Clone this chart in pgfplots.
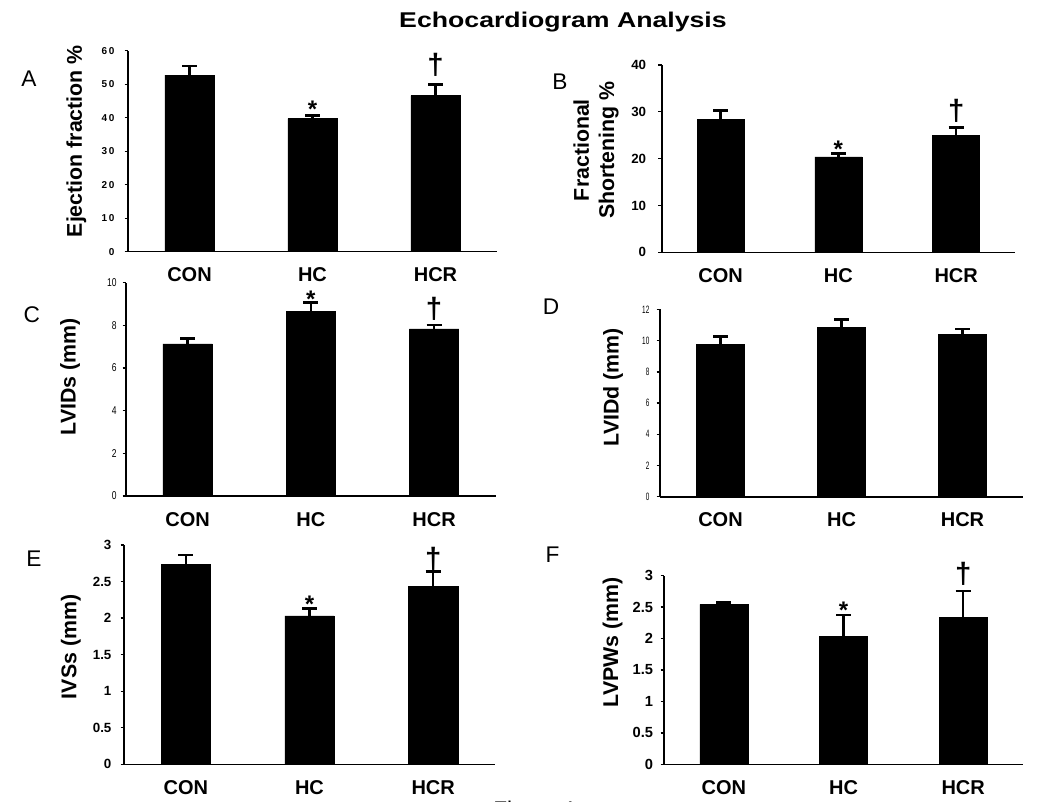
\documentclass[border=0pt]{standalone}
\usepackage{fontspec}
\setmainfont{Liberation Sans}
\usepackage{pgfplots}
\pgfplotsset{compat=1.18}
\pgfplotsset{
  panel/.style={
    scale only axis, anchor=south west, clip=false,
    axis x line*=bottom, axis y line*=left,
    axis line style={-, line width=1.2pt, black},
    xmin=-0.5, xmax=2.5, ymin=0,
    xtick={0,1,2}, xticklabels={CON,HC,HCR},
    xtick style={draw=none},
    xticklabel style={font=\fontsize{15}{18}\selectfont\bfseries, inner sep=0pt, anchor=north, yshift=-9.5pt},
    ytick style={line width=1pt, black}, tick align=outside, major tick length=2.5pt,
    yticklabel style={inner sep=0pt, anchor=east},
    ylabel style={font=\fontsize{16}{19}\selectfont\bfseries, anchor=center, align=center},
    /pgf/number format/assume math mode=true,
    ybar, bar width=0.4,
  },
  barstyle/.style={fill=black, draw=black,
    error bars/.cd, y dir=plus, y explicit,
    error bar style={line width=1.9pt, black},
    error mark options={rotate=90, line width=1.9pt, mark size=5.6pt, black}},
}
\newcommand\starfont{\fontsize{18}{18}\selectfont\bfseries}
\newcommand\dagfont{\fontsize{22}{22}\selectfont\bfseries}
\begin{document}
\begin{tikzpicture}
\useasboundingbox (0,0) rectangle (787.5pt,600.75pt);
% title and letters
\node[anchor=base, font=\fontsize{16}{18}\selectfont\bfseries, xscale=1.25] at (422.25pt,580.3pt) {Echocardiogram Analysis};
\node[font=\fontsize{17}{18}\selectfont, inner sep=0pt] at (21.75pt,541.9pt) {A};
\node[font=\fontsize{17}{18}\selectfont, inner sep=0pt] at (420pt,539.8pt) {B};
\node[font=\fontsize{17}{18}\selectfont, inner sep=0pt] at (23.8pt,364.5pt) {C};
\node[font=\fontsize{17}{18}\selectfont, inner sep=0pt] at (413.25pt,370.5pt) {D};
\node[font=\fontsize{17}{18}\selectfont, inner sep=0pt] at (25.5pt,181.5pt) {E};
\node[font=\fontsize{17}{18}\selectfont, inner sep=0pt] at (414.4pt,184.5pt) {F};
\node[anchor=north west, inner sep=0pt, font=\fontsize{17}{18}\selectfont] at (369.75pt,0pt) {Figure 1};

% A
\begin{axis}[panel, at={(96pt,411.98pt)}, width=276.75pt, height=150.75pt,
  ymax=60, ytick={0,10,20,30,40,50,60},
  yticklabels={0,1\,0,2\,0,3\,0,4\,0,5\,0,6\,0},
  yticklabel style={font=\fontsize{7.5}{9}\selectfont\bfseries, xshift=-7.5pt},
  ylabel={Ejection fraction \%},
  ylabel style={at={(axis description cs:-0.14,0.55)}}]
\addplot[barstyle] coordinates {(0,52.7) +- (0,2.8) (1,39.7) +- (0,0.9) (2,46.6) +- (0,3.3)};
\node[anchor=base, font=\starfont] at (axis cs:1,40.2) {*};
\node[font=\dagfont] at (axis cs:2,55.7) {†};
\end{axis}

% B
\begin{axis}[panel, at={(496.3pt,411.5pt)}, width=265pt, height=140.5pt,
  ymax=40, ytick={0,10,20,30,40},
  yticklabels={0,10,20,30,40},
  yticklabel style={font=\fontsize{10}{12}\selectfont\bfseries, xshift=-9pt},
  ylabel={Fractional\\Shortening \%},
  ylabel style={at={(axis description cs:-0.186,0.546)}}]
\addplot[barstyle] coordinates {(0,28.4) +- (0,1.85) (1,20.4) +- (0,0.7) (2,24.9) +- (0,1.8)};
\node[anchor=base, font=\starfont] at (axis cs:1,20.35) {*};
\node[font=\dagfont] at (axis cs:2,30.2) {†};
\end{axis}

% C
\begin{axis}[panel, at={(94.5pt,228.75pt)}, width=277.3pt, height=160pt,
  ymax=10, ytick={0,2,4,6,8,10},
  yticklabels={0,2,4,6,8,10},
  yticklabel style={font=\fontsize{8.5}{10}\selectfont, xscale=0.75, xshift=-5.8pt},
  ylabel={LVIDs (mm)},
  ylabel style={at={(axis description cs:-0.151,0.559)}}]
\addplot[barstyle] coordinates {(0,7.13) +- (0,0.26) (1,8.64) +- (0,0.42) (2,7.83) +- (0,0.19)};
\node[anchor=base, font=\starfont] at (axis cs:1,8.85) {*};
\node[font=\dagfont] at (axis cs:2,8.77) {†};
\end{axis}

% D
\begin{axis}[panel, at={(495pt,228.2pt)}, width=272.25pt, height=140.5pt,
  ymax=12, ytick={0,2,4,6,8,10,12},
  yticklabels={0,2,4,6,8,10,12},
  yticklabel style={font=\fontsize{8}{10}\selectfont, xscale=0.6, xshift=-9pt},
  ylabel={LVIDd (mm)},
  ylabel style={at={(axis description cs:-0.129,0.585)}}]
\addplot[barstyle] coordinates {(0,9.78) +- (0,0.47) (1,10.85) +- (0,0.5) (2,10.4) +- (0,0.34)};
\end{axis}

% E
\begin{axis}[panel, at={(93pt,27.5pt)}, width=278.25pt, height=164.5pt,
  ymax=3, ytick={0,0.5,1,1.5,2,2.5,3},
  yticklabels={0,0.5,1,1.5,2,2.5,3},
  yticklabel style={font=\fontsize{10}{12}\selectfont\bfseries, xshift=-6.75pt},
  ylabel={IVSs (mm)},
  ylabel style={at={(axis description cs:-0.143,0.535)}}]
\addplot[barstyle] coordinates {(0,2.73) +- (0,0.135) (1,2.03) +- (0,0.105) (2,2.43) +- (0,0.205)};
\node[anchor=base, font=\starfont] at (axis cs:1,2.083) {*};
\node[font=\dagfont] at (axis cs:2,2.81) {†};
\end{axis}

% F
\begin{axis}[panel, at={(498pt,27.5pt)}, width=269.25pt, height=141.5pt,
  ymax=3, ytick={0,0.5,1,1.5,2,2.5,3},
  yticklabels={0,0.5,1,1.5,2,2.5,3},
  yticklabel style={font=\fontsize{11}{13}\selectfont\bfseries, xshift=-5.5pt},
  ylabel={LVPWs (mm)},
  ylabel style={at={(axis description cs:-0.143,0.648)}}]
\addplot[barstyle] coordinates {(0,2.544) +- (0,0.03) (1,2.03) +- (0,0.345) (2,2.337) +- (0,0.42)};
\node[anchor=base, font=\starfont] at (axis cs:1,2.311) {*};
\node[font=\dagfont] at (axis cs:2,3.03) {†};
\end{axis}
\end{tikzpicture}
\end{document}
